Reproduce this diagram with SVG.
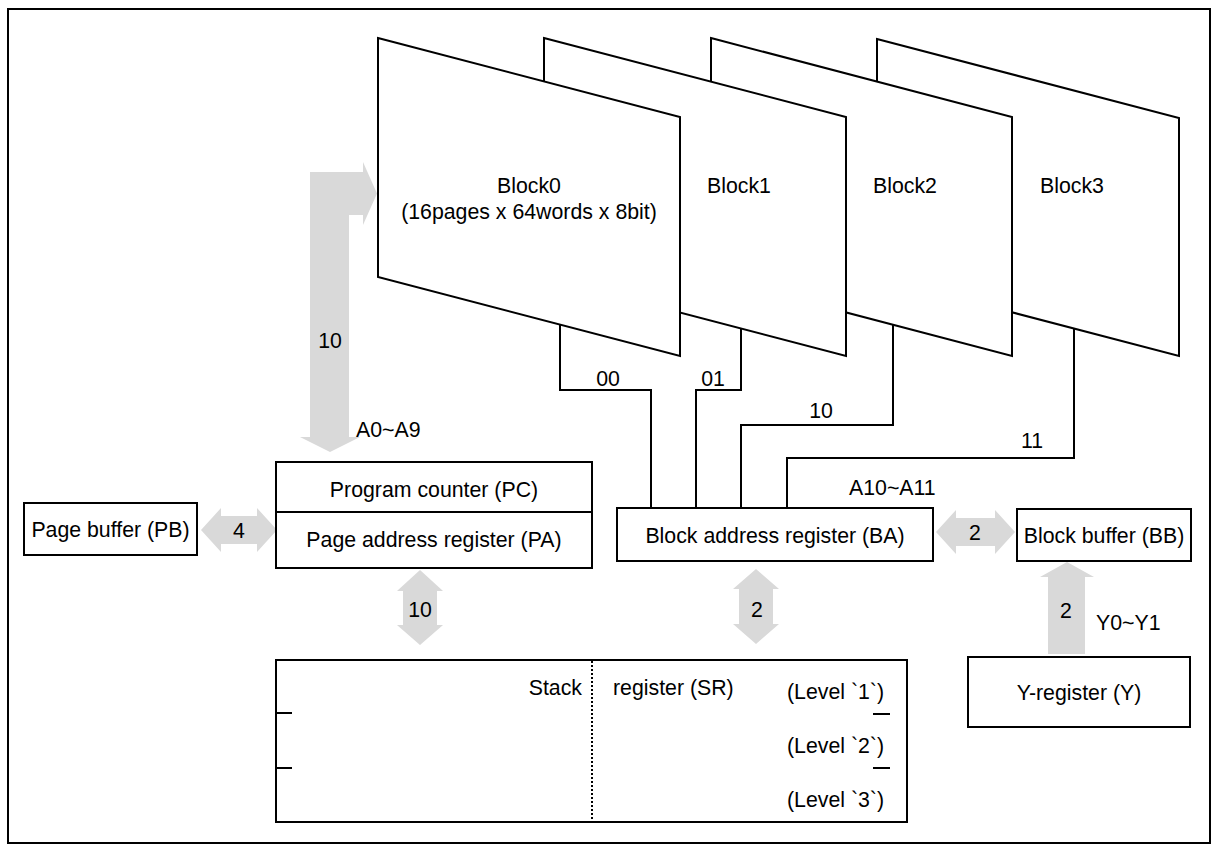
<svg xmlns="http://www.w3.org/2000/svg" width="1216" height="850" viewBox="0 0 1216 850">
<style>
.ln{fill:none;stroke:#000;stroke-width:2}
.bx{fill:#fff;stroke:#000;stroke-width:2}
.ar{fill:#d9d9d9;stroke:none}
text{font-family:"Liberation Sans",Arial,sans-serif;font-size:21.3px;fill:#000}
.c{text-anchor:middle}
.e{text-anchor:end}
</style>
<rect x="0" y="0" width="1216" height="850" fill="#fff"/>
<rect id="frame" x="8" y="9" width="1202" height="834" class="ln"/>

<g id="block3">
<polygon points="877,39 1179,118 1179,356 877,277" class="bx"/>
<text x="1040" y="193">Block3</text>
</g>
<g id="block2">
<polygon points="711,38 1012,117 1012,356 711,277" class="bx"/>
<text x="873" y="193">Block2</text>
</g>
<g id="block1">
<polygon points="544,38 846,117 846,356 544,277" class="bx"/>
<text x="707" y="193">Block1</text>
</g>
<g id="block0">
<polygon points="378,38 680,117 680,356 378,277" class="bx"/>
<text x="529" y="193" class="c">Block0</text>
<text x="529" y="219" class="c">(16pages x 64words x 8bit)</text>
</g>

<g id="connectors">
<polyline points="560,325 560,390 651,390 651,508" class="ln"/>
<polyline points="741,329 741,390 696,390 696,508" class="ln"/>
<polyline points="893,324 893,425 741,425 741,508" class="ln"/>
<polyline points="1074,329 1074,458 787,458 787,508" class="ln"/>
<path class="ar" d="M310,437 L310,172 L363,172 L363,162 L377,193.5 L363,225 L363,215 L349,215 L349,437 L360,437 L330,452 L300,437 Z"/>
<path class="ar" d="M201,530 L221,508 L221,516 L257,516 L257,508 L277,530 L257,552 L257,544 L221,544 L221,552 Z"/>
<path class="ar" d="M936,532 L956,510 L956,518 L995,518 L995,510 L1015,532 L995,554 L995,546 L956,546 L956,554 Z"/>
<path class="ar" d="M420,570 L443,591 L437,591 L437,625 L443,625 L420,645 L397,625 L403,625 L403,591 L397,591 Z"/>
<path class="ar" d="M756,569 L779,589 L773,589 L773,624 L779,624 L756,644 L733,624 L739,624 L739,589 L733,589 Z"/>
<path class="ar" d="M1067,562 L1094,577 L1085,577 L1085,654 L1048,654 L1048,577 L1040,577 Z"/>
<text x="608" y="386" class="c">00</text>
<text x="713" y="386" class="c">01</text>
<text x="821" y="418" class="c">10</text>
<text x="1032" y="448" class="c">11</text>
<text x="849" y="495">A10~A11</text>
<text x="330" y="348" class="c">10</text>
<text x="356" y="437">A0~A9</text>
<text x="239" y="538" class="c">4</text>
<text x="975" y="540" class="c">2</text>
<text x="420" y="617" class="c">10</text>
<text x="757" y="617" class="c">2</text>
<text x="1066" y="618" class="c">2</text>
<text x="1096" y="630">Y0~Y1</text>
</g>

<g id="pb">
<rect x="24" y="503" width="173" height="52" class="bx"/>
<text x="110.5" y="537" class="c">Page buffer (PB)</text>
</g>
<g id="pc-pa">
<rect x="276" y="462" width="316" height="106" class="bx"/>
<line x1="276" y1="512" x2="592" y2="512" class="ln"/>
<text x="434" y="497" class="c">Program counter (PC)</text>
<text x="434" y="547" class="c">Page address register (PA)</text>
</g>
<g id="ba">
<rect x="617" y="508" width="316" height="53" class="bx"/>
<text x="775" y="543" class="c">Block address register (BA)</text>
</g>
<g id="bb">
<rect x="1017" y="509" width="174" height="52" class="bx"/>
<text x="1104" y="543" class="c">Block buffer (BB)</text>
</g>
<g id="y">
<rect x="968" y="657" width="222" height="70" class="bx"/>
<text x="1079" y="700" class="c">Y-register (Y)</text>
</g>
<g id="sr">
<rect x="276" y="660" width="631" height="162" class="bx"/>
<line x1="592" y1="661" x2="592" y2="821" stroke="#000" stroke-width="2" stroke-dasharray="2,2"/>
<line x1="276" y1="713" x2="292" y2="713" class="ln"/>
<line x1="276" y1="768" x2="292" y2="768" class="ln"/>
<line x1="873" y1="714" x2="890" y2="714" class="ln"/>
<line x1="873" y1="768" x2="890" y2="768" class="ln"/>
<text x="582" y="695" class="e">Stack</text>
<text x="613" y="695">register (SR)</text>
<text x="787" y="699">(Level `1`)</text>
<text x="787" y="753">(Level `2`)</text>
<text x="787" y="807">(Level `3`)</text>
</g>
</svg>
